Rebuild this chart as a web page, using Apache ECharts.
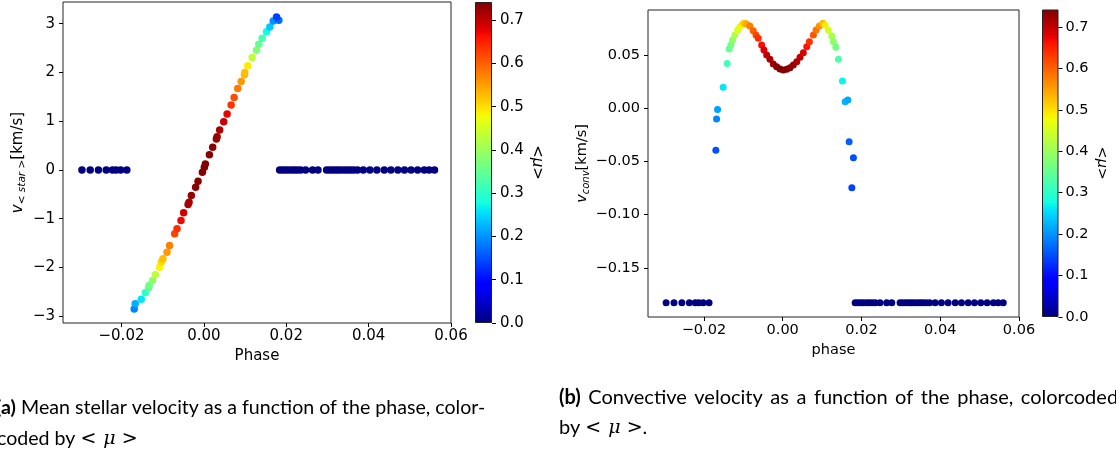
<!DOCTYPE html>
<html><head><meta charset="utf-8">
<script src="https://cdn.jsdelivr.net/npm/echarts@6/dist/echarts.min.js"></script>
<style>html,body{margin:0;padding:0;background:#fff;overflow:hidden}#c{width:1116px;height:457px}</style>
</head><body><div id="c"></div>
<script>
// ---------- data ----------
// flat (mu = 0) points, shared phases for both panels
const flatPhase = [-0.0296, -0.0276, -0.0256, -0.0237, -0.0222, -0.0213, -0.0202, -0.0187,
  0.0184, 0.0191, 0.0198, 0.0205, 0.0213, 0.0220, 0.0227, 0.0235, 0.0247, 0.0264, 0.0277,
  0.0298, 0.0305, 0.0313, 0.0320, 0.0327, 0.0334, 0.0342, 0.0349, 0.0356, 0.0364, 0.0373,
  0.0387, 0.0403, 0.0420, 0.0438, 0.0454, 0.0471, 0.0487, 0.0503, 0.0519, 0.0535, 0.0547, 0.0560];
const flatMu = [0,0,0,0,0,0,0,0, 0,0,0,0,0,0,0,0,0,0,0, 0,0,0,0,0,0,0,0,0,0,0, 0,0,0,0,0,0,0,0,0,0,0,0];
const flatVStar = [0,0,0,0,0,0,0,0, 0,0,0,0,0,0,0,0,0,0,0, 0,0,0,0,0,0,0,0,0,0,0, 0,0,0,0,0,0,0,0,0,0,0,0];
const flatVConv = [-0.183,-0.183,-0.183,-0.183,-0.183,-0.183,-0.183,-0.183,
  -0.183,-0.183,-0.183,-0.183,-0.183,-0.183,-0.183,-0.183,-0.183,-0.183,-0.183,
  -0.183,-0.183,-0.183,-0.183,-0.183,-0.183,-0.183,-0.183,-0.183,-0.183,-0.183,
  -0.183,-0.183,-0.183,-0.183,-0.183,-0.183,-0.183,-0.183,-0.183,-0.183,-0.183,-0.183];

// panel (a): mean stellar velocity
const phaseA = [-0.01691, -0.01667, -0.01521, -0.01423, -0.01343, -0.01326, -0.01246, -0.01180,
  -0.01075, -0.01034, -0.00993, -0.00895, -0.00832, -0.00710, -0.00652, -0.00555, -0.00491,
  -0.00384, -0.00360, -0.00304, -0.00200, -0.00141, -0.00036,
  0.00012, 0.00036, 0.00134, 0.00214, 0.00304, 0.00321, 0.00384, 0.00482, 0.00564, 0.00662,
  0.00735, 0.00822, 0.00905, 0.00985, 0.00993, 0.01066, 0.01173, 0.01277, 0.01333, 0.01416,
  0.01521, 0.01601, 0.01684, 0.01820, 0.01764];
const vStar = [-2.854, -2.743, -2.655, -2.518, -2.416, -2.368, -2.266, -2.149,
  -1.994, -1.891, -1.822, -1.687, -1.550, -1.310, -1.208, -1.038, -0.880,
  -0.710, -0.663, -0.526, -0.356, -0.233, -0.049,
  0.053, 0.123, 0.313, 0.463, 0.635, 0.682, 0.819, 0.989, 1.146, 1.331,
  1.486, 1.670, 1.814, 1.955, 1.998, 2.135, 2.305, 2.456, 2.579, 2.702,
  2.837, 2.933, 3.056, 3.071, 3.138];
const muA = [0.190, 0.220, 0.260, 0.300, 0.350, 0.360, 0.385, 0.430,
  0.480, 0.505, 0.525, 0.555, 0.575, 0.620, 0.640, 0.670, 0.690,
  0.712, 0.718, 0.726, 0.733, 0.737, 0.740,
  0.740, 0.740, 0.738, 0.735, 0.728, 0.725, 0.715, 0.695, 0.675, 0.635,
  0.615, 0.580, 0.555, 0.530, 0.525, 0.490, 0.430, 0.375, 0.350, 0.325,
  0.275, 0.240, 0.200, 0.170, 0.140];

// panel (b): convective velocity
const phaseB = [-0.01697, -0.01679, -0.01654, -0.01511, -0.01410, -0.01359, -0.01316, -0.01272,
  -0.01214, -0.01145, -0.01087, -0.01018, -0.00977, -0.00916, -0.00832, -0.00748, -0.00679,
  -0.00621, -0.00534, -0.00476, -0.00407, -0.00323, -0.00239, -0.00153, -0.00069, 0.00015,
  0.00102, 0.00186, 0.00270, 0.00356, 0.00440, 0.00524, 0.00611, 0.00677, 0.00779, 0.00847,
  0.00931, 0.01018, 0.01076, 0.01160, 0.01247, 0.01288, 0.01349, 0.01415, 0.01517, 0.01585,
  0.01654, 0.01687, 0.01796, 0.01756];
const vConv = [-0.0392, -0.0099, -0.0008, 0.0200, 0.0426, 0.0561, 0.0599, 0.0646,
  0.0693, 0.0741, 0.0772, 0.0797, 0.0804, 0.0797, 0.0778, 0.0734, 0.0693,
  0.0662, 0.0599, 0.0552, 0.0505, 0.0464, 0.0420, 0.0394, 0.0373, 0.0363,
  0.0370, 0.0385, 0.0410, 0.0442, 0.0483, 0.0526, 0.0583, 0.0630, 0.0693, 0.0741,
  0.0778, 0.0804, 0.0788, 0.0741, 0.0684, 0.0630, 0.0577, 0.0464, 0.0259, 0.0064,
  0.0080, -0.0313, -0.0464, -0.0747];
const muB = [0.150, 0.190, 0.210, 0.260, 0.320, 0.350, 0.365, 0.390,
  0.420, 0.450, 0.470, 0.495, 0.520, 0.545, 0.575, 0.600, 0.620,
  0.640, 0.665, 0.685, 0.700, 0.715, 0.725, 0.735, 0.740, 0.742,
  0.740, 0.737, 0.728, 0.715, 0.700, 0.685, 0.660, 0.640, 0.610, 0.585,
  0.560, 0.530, 0.490, 0.450, 0.410, 0.390, 0.360, 0.330, 0.270, 0.225,
  0.215, 0.160, 0.150, 0.140];

// axis ranges and tick labels
const xRange = [-0.0342, 0.06];
const yRangeA = [-3.14, 3.445];
const yRangeB = [-0.1964, 0.0929];
const muRange = [0, 0.742];
const xTicks = [-0.02, 0, 0.02, 0.04, 0.06];
const yTicksA = [-3, -2, -1, 0, 1, 2, 3];
const yTicksB = [-0.15, -0.10, -0.05, 0, 0.05];
const cbTicks = [0, 0.1, 0.2, 0.3, 0.4, 0.5, 0.6, 0.7];

// caption texts
const capA1 = 'Mean stellar velocity as a function of the phase, color-';
const capA2 = 'coded by';
const capB1 = 'Convective velocity as a function of the phase, colorcoded';
const capB2 = 'by';

// ---------- helpers ----------
function seg(t, pts) {
  for (let i = 1; i < pts.length; i++) {
    if (t <= pts[i][0]) {
      const a = pts[i - 1], b = pts[i];
      return a[1] + (b[1] - a[1]) * (t - a[0]) / (b[0] - a[0]);
    }
  }
  return pts[pts.length - 1][1];
}
function jet(t) {
  const r = seg(t, [[0, 0], [0.35, 0], [0.66, 1], [0.89, 1], [1, 0.5]]);
  const g = seg(t, [[0, 0], [0.125, 0], [0.375, 1], [0.64, 1], [0.91, 0], [1, 0]]);
  const b = seg(t, [[0, 0.5], [0.11, 1], [0.34, 1], [0.65, 0], [1, 0]]);
  const h = v => Math.round(v * 255).toString(16).padStart(2, '0');
  return '#' + h(r) + h(g) + h(b);
}
const N = 64;
const jetColors = [], jetStops = [];
for (let i = 0; i <= N; i++) {
  jetColors.push(jet(i / N));
  jetStops.push({ offset: i / N, color: jet(i / N) });
}
const fmt = (v, d) => (v < -1e-12 ? '\u2212' : '') + Math.abs(v).toFixed(d);
const FONT = 'DejaVu Sans';
const tickLabel = (fs, m) => ({ color: '#000', fontFamily: FONT, fontSize: fs, margin: m });
const noLine = { show: false, onZero: false };

function zip3(a, b, c) { return a.map((v, i) => [v, b[i], c[i]]); }
const dataA = zip3(flatPhase, flatVStar, flatMu).concat(zip3(phaseA, vStar, muA));
const dataB = zip3(flatPhase, flatVConv, flatMu).concat(zip3(phaseB, vConv, muB));

function plotX(gi, fs, name, gap) {
  return {
    type: 'value', gridIndex: gi, min: xRange[0], max: xRange[1],
    name: name, nameLocation: 'middle', nameGap: gap,
    nameTextStyle: { color: '#000', fontFamily: FONT, fontSize: fs },
    axisLine: noLine, splitLine: { show: false },
    axisTick: { show: true, length: 4, lineStyle: { color: '#000' }, customValues: xTicks },
    axisLabel: Object.assign(tickLabel(fs, 6), { customValues: xTicks, formatter: v => fmt(v, 2) })
  };
}
function cbY(gi, fs, gap, m) {
  return {
    type: 'value', gridIndex: gi, min: muRange[0], max: muRange[1], position: 'right',
    name: '{a|<}{b|\u03bc}{a|>}', nameLocation: 'middle', nameRotate: -90, nameGap: gap,
    nameTextStyle: { rich: {
      a: { fontFamily: FONT, fontSize: fs, color: '#000' },
      b: { fontFamily: FONT, fontSize: fs, fontStyle: 'italic', color: '#000' } } },
    axisLine: noLine, splitLine: { show: false },
    axisTick: { show: true, length: 4, lineStyle: { color: '#000' }, customValues: cbTicks },
    axisLabel: Object.assign(tickLabel(fs, m), { customValues: cbTicks, formatter: v => v.toFixed(1) })
  };
}
function cbX(gi) { return { type: 'category', gridIndex: gi, data: ['c'], show: false }; }
function cbSeries(i) {
  return {
    type: 'bar', xAxisIndex: i, yAxisIndex: i, data: [muRange[1]], barWidth: '100%', silent: true,
    itemStyle: { color: new echarts.graphic.LinearGradient(0, 1, 0, 0, jetStops), borderColor: '#222', borderWidth: 1 }
  };
}

const chart = echarts.init(document.getElementById('c'), null, { renderer: 'canvas' });
function capRich(fs, ws) {
  const base = { fontFamily: 'Lato', fontSize: fs, color: '#1a1a1a' };
  return {
    b: Object.assign({}, base, { fontWeight: 'bold' }),
    t: Object.assign({}, base),
    s: Object.assign({}, base, { padding: [0, ws, 0, ws] }),
    m: { fontFamily: 'DejaVu Serif', fontSize: 19, color: '#1a1a1a' },
    mi: { fontFamily: 'DejaVu Serif', fontSize: 19, fontStyle: 'italic', color: '#1a1a1a', padding: [0, 6, 0, 7] }
  };
}
function words(str) { return str.split(' ').map(w => '{t|' + w + '}').join('{s| }'); }
function cap(x, y, txt, fs, ws) {
  return { type: 'text', x: x, y: y, style: { text: txt, rich: capRich(fs, ws), fontFamily: 'Lato', fontSize: fs, verticalAlign: 'middle', align: 'left' } };
}
const mu = '{m|<}{mi|\u03bc}{m|>}';

chart.setOption({
  animation: false,
  backgroundColor: '#fff',
  grid: [
    { left: 63, top: 2, width: 388, height: 321, show: true, borderColor: '#222', borderWidth: 1 },
    { left: 475, top: 2, width: 17, height: 321 },
    { left: 648, top: 10, width: 371, height: 307, show: true, borderColor: '#222', borderWidth: 1 },
    { left: 1042, top: 9.5, width: 16.5, height: 307.5 }
  ],
  xAxis: [plotX(0, 15, 'Phase', 24), cbX(1), plotX(2, 14.5, 'phase', 24), cbX(3)],
  yAxis: [
    {
      type: 'value', gridIndex: 0, min: yRangeA[0], max: yRangeA[1],
      name: '{v|v}{s|< star >}{n|[km/s]}', nameLocation: 'middle', nameRotate: 90, nameGap: 35,
      nameTextStyle: { rich: {
        v: { fontFamily: FONT, fontSize: 15, fontStyle: 'italic', color: '#000' },
        s: { fontFamily: FONT, fontSize: 10.5, fontStyle: 'italic', color: '#000', padding: [8, 0, 0, 0] },
        n: { fontFamily: FONT, fontSize: 15, color: '#000' } } },
      axisLine: noLine, splitLine: { show: false },
      axisTick: { show: true, length: 4, lineStyle: { color: '#000' }, customValues: yTicksA },
      axisLabel: Object.assign(tickLabel(15, 8), { customValues: yTicksA, formatter: v => fmt(v, 0) })
    },
    cbY(1, 15, 37, 8),
    {
      type: 'value', gridIndex: 2, min: yRangeB[0], max: yRangeB[1],
      name: '{v|v}{s|conv}{n|[km/s]}', nameLocation: 'middle', nameRotate: 90, nameGap: 57,
      nameTextStyle: { rich: {
        v: { fontFamily: FONT, fontSize: 14.5, fontStyle: 'italic', color: '#000' },
        s: { fontFamily: FONT, fontSize: 10, fontStyle: 'italic', color: '#000', padding: [8, 0, 0, 0] },
        n: { fontFamily: FONT, fontSize: 14.5, color: '#000' } } },
      axisLine: noLine, splitLine: { show: false },
      axisTick: { show: true, length: 4, lineStyle: { color: '#000' }, customValues: yTicksB },
      axisLabel: Object.assign(tickLabel(14.5, 8), { customValues: yTicksB, formatter: v => fmt(v, 2) })
    },
    cbY(3, 14.5, 36, 7)
  ],
  visualMap: [
    { type: 'continuous', show: false, seriesIndex: 0, dimension: 2, min: muRange[0], max: muRange[1], inRange: { color: jetColors } },
    { type: 'continuous', show: false, seriesIndex: 2, dimension: 2, min: muRange[0], max: muRange[1], inRange: { color: jetColors } }
  ],
  series: [
    { type: 'scatter', xAxisIndex: 0, yAxisIndex: 0, data: dataA, symbolSize: 7.5, itemStyle: { opacity: 1 } },
    cbSeries(1),
    { type: 'scatter', xAxisIndex: 2, yAxisIndex: 2, data: dataB, symbolSize: 7, itemStyle: { opacity: 1 } },
    cbSeries(3)
  ],
  graphic: [
    cap(-4, 408, '{b|(a)}{s| }' + words(capA1), 19.6, 0),
    cap(-3, 439, words(capA2) + '{s| }' + mu, 19.6, 0),
    cap(559, 398, '{b|(b)}{s| }' + words(capB1), 20, 1.2),
    cap(559, 428, words(capB2) + '{s| }' + mu + '{t|.}', 20, 0)
  ]
});
</script>
</body></html>
